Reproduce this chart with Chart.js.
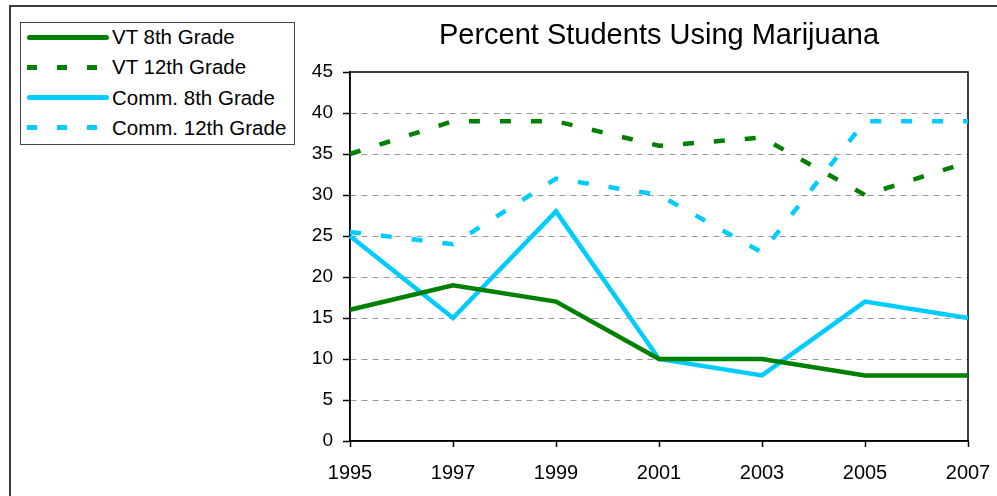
<!DOCTYPE html>
<html>
<head>
<meta charset="utf-8">
<script src="https://cdn.jsdelivr.net/npm/chart.js@4/dist/chart.umd.min.js"></script>
<style>
  html, body { margin: 0; padding: 0; background: #fff; overflow: hidden; }
  body { width: 997px; height: 496px; position: relative; font-family: "Liberation Sans", Arial, sans-serif; }
  #frame { position: absolute; left: 9px; top: 5px; width: 1000px; height: 600px; border-left: 2px solid #3a3a3a; border-top: 2px solid #3a3a3a; }
  #chart { position: absolute; left: 0; top: 0; }
  #legend { position: absolute; left: 20px; top: 22px; width: 273px; height: 121px; border: 1px solid #444; background: #fff; }
  .legend-row { position: absolute; left: 0; height: 22px; display: flex; align-items: center; }
  .legend-row .sample { width: 82px; height: 5px; margin-left: 6px; margin-right: 3px; }
  .legend-row .label { font-size: 20.5px; color: #000; white-space: nowrap; }
</style>
</head>
<body>
<div id="frame"></div>
<canvas id="chart" width="997" height="496"></canvas>
<div id="legend"></div>
<script>
const years = ["1995", "1997", "1999", "2001", "2003", "2005", "2007"];
const vt8 = [16, 19, 17, 10, 10, 8, 8];
const vt12 = [35, 39, 39, 36, 37, 30, 34];
const comm8 = [25, 15, 28, 10, 8, 17, 15];
const comm12 = [25.5, 24, 32, 30, 23, 39, 39];
const yTicks = [0, 5, 10, 15, 20, 25, 30, 35, 40, 45];

const GREEN = '#008000';
const CYAN = '#00ccff';
const DASH = [11, 20];
const FONT = '"Liberation Sans", Arial, sans-serif';

const seriesList = [
    { label: 'VT 8th Grade', data: vt8, color: GREEN, dashed: false },
    { label: 'VT 12th Grade', data: vt12, color: GREEN, dashed: true },
    { label: 'Comm. 8th Grade', data: comm8, color: CYAN, dashed: false },
    { label: 'Comm. 12th Grade', data: comm12, color: CYAN, dashed: true }
];

// html legend, the box sits top-left outside the plot
const legendEl = document.getElementById('legend');
seriesList.forEach((s, i) => {
    const row = document.createElement('div');
    row.className = 'legend-row';
    row.style.top = (3 + i * 30.3) + 'px';
    const sample = document.createElement('div');
    sample.className = 'sample';
    if (s.dashed) {
        sample.style.background = `repeating-linear-gradient(to right, ${s.color} 0 10px, transparent 10px 30px)`;
    } else {
        sample.style.background = s.color;
        sample.style.borderRadius = '3px';
    }
    const label = document.createElement('span');
    label.className = 'label';
    label.textContent = s.label;
    row.appendChild(sample);
    row.appendChild(label);
    legendEl.appendChild(row);
});

// solid frame round the plot area
const plotFrame = {
    id: 'plotFrame',
    beforeDatasetsDraw(chart) {
        const { ctx, chartArea: a } = chart;
        ctx.save();
        ctx.strokeStyle = '#000';
        ctx.lineWidth = 1.5;
        ctx.setLineDash([]);
        ctx.strokeRect(a.left, a.top, a.right - a.left, a.bottom - a.top);
        ctx.restore();
    }
};

const ctx = document.getElementById('chart').getContext('2d');
new Chart(ctx, {
    type: 'line',
    data: {
        labels: years,
        datasets: seriesList.map(s => ({
            label: s.label,
            data: s.data,
            borderColor: s.color,
            backgroundColor: s.color,
            borderWidth: 4.5,
            borderDash: s.dashed ? DASH : [],
            pointRadius: 0,
            tension: 0,
            fill: false
        }))
    },
    options: {
        responsive: false,
        animation: false,
        devicePixelRatio: 1,
        layout: { padding: { left: 0, right: 29, top: 0, bottom: 0 } },
        plugins: {
            legend: { display: false },
            tooltip: { enabled: false },
            title: {
                display: true,
                fullSize: false,
                text: 'Percent Students Using Marijuana',
                color: '#000',
                font: { family: FONT, size: 29, weight: 'normal', lineHeight: 1.2 },
                padding: { top: 19, bottom: 18.2 }
            }
        },
        scales: {
            x: {
                type: 'category',
                offset: false,
                grid: { drawOnChartArea: false, drawTicks: true, tickLength: 6, tickColor: '#000', tickWidth: 1.5 },
                border: { display: true, color: '#000', width: 1.5 },
                ticks: {
                    color: '#000',
                    padding: 14,
                    maxRotation: 0,
                    autoSkip: false,
                    font: { family: FONT, size: 20 }
                },
                afterFit: (scale) => {
                    scale.height = 55;
                    scale.paddingLeft = 0;
                    scale.paddingRight = 0;
                }
            },
            y: {
                min: 0,
                max: 45,
                afterBuildTicks: (scale) => { scale.ticks = yTicks.map(v => ({ value: v })); },
                grid: {
                    color: (c) => (c.tick && (c.tick.value === 0 || c.tick.value === 45)) ? 'rgba(0,0,0,0)' : '#999',
                    lineWidth: 1,
                    tickColor: '#000',
                    tickLength: 7,
                    tickWidth: 1.5
                },
                border: { display: true, color: '#000', width: 1.5, dash: [6, 5] },
                ticks: {
                    color: '#000',
                    padding: 10,
                    font: { family: FONT, size: 19 }
                },
                afterFit: (scale) => { scale.width = 350; }
            }
        }
    },
    plugins: [plotFrame]
});
</script>
</body>
</html>
